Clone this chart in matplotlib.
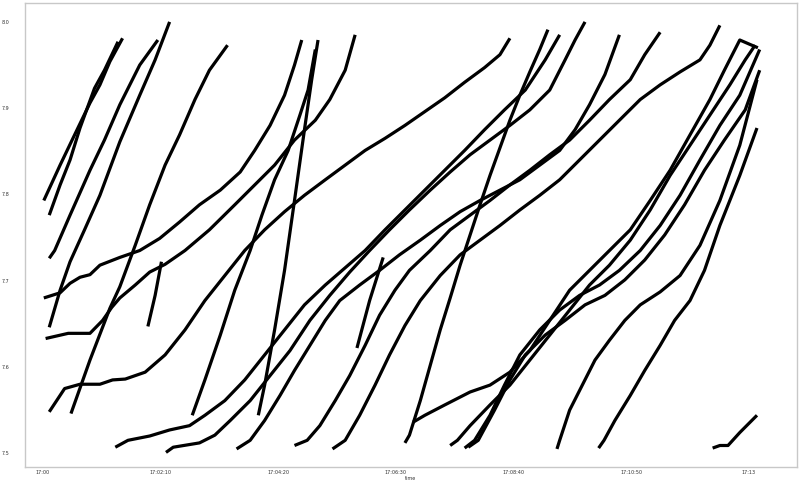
import matplotlib
matplotlib.use("Agg")
import matplotlib.pyplot as plt

# seconds after 17:00:00 and measured value for each run
run_a_t = [1, 19, 35, 52, 63, 74, 88]
run_a_v = [7.793, 7.834, 7.869, 7.906, 7.927, 7.954, 7.981]
run_b_t = [7, 19, 30, 41, 57, 68, 83]
run_b_v = [7.776, 7.811, 7.840, 7.877, 7.923, 7.944, 7.977]
run_c_t = [7, 13, 30, 52, 68, 85, 107, 127]
run_c_v = [7.726, 7.735, 7.776, 7.828, 7.863, 7.904, 7.950, 7.979]
run_d_t = [7, 19, 30, 46, 63, 85, 107, 124, 140]
run_d_v = [7.646, 7.689, 7.722, 7.759, 7.799, 7.861, 7.915, 7.956, 8.000]
run_e_t = [1, 19, 30, 41, 52, 63, 85, 107, 129, 151, 173, 196, 218, 234, 251, 267, 278, 286]
run_e_v = [7.680, 7.686, 7.697, 7.704, 7.707, 7.718, 7.727, 7.735, 7.749, 7.768, 7.788, 7.805,
           7.826, 7.851, 7.880, 7.915, 7.950, 7.979]
run_f_t = [3, 28, 52, 66, 76, 85, 102, 118, 135, 157, 184, 212, 234, 256, 278, 301, 317, 334, 345]
run_f_v = [7.633, 7.639, 7.639, 7.654, 7.669, 7.680, 7.695, 7.710, 7.719, 7.735, 7.759, 7.788,
           7.811, 7.834, 7.863, 7.886, 7.910, 7.944, 7.985]
run_g_t = [7, 24, 41, 63, 77, 91, 113, 135, 157, 179, 201, 223, 245, 267, 289, 312, 334, 356,
           378, 400, 422, 444, 466, 488, 505, 516]
run_g_v = [7.548, 7.575, 7.580, 7.580, 7.585, 7.586, 7.594, 7.614, 7.643, 7.677, 7.706, 7.735,
           7.759, 7.780, 7.799, 7.817, 7.834, 7.851, 7.865, 7.880, 7.896, 7.912, 7.930, 7.947,
           7.962, 7.981]
run_h_t = [31, 52, 74, 85, 102, 118, 135, 151, 168, 184, 204]
run_h_v = [7.546, 7.608, 7.668, 7.693, 7.741, 7.788, 7.834, 7.869, 7.910, 7.944, 7.973]
run_i_t = [80, 94, 118, 140, 162, 179, 201, 223, 245, 267, 289, 312, 334, 356, 378, 400, 422,
           444, 466, 488, 510, 533, 555, 571]
run_i_v = [7.507, 7.515, 7.520, 7.527, 7.532, 7.544, 7.561, 7.585, 7.614, 7.643, 7.672, 7.695,
           7.715, 7.735, 7.759, 7.782, 7.805, 7.828, 7.851, 7.875, 7.898, 7.921, 7.956, 7.985]
run_j_t = [116, 124, 131]
run_j_v = [7.647, 7.683, 7.722]
run_k_t = [165, 179, 196, 212, 229, 242, 256, 271, 284, 293, 301]
run_k_v = [7.544, 7.585, 7.637, 7.689, 7.735, 7.776, 7.817, 7.851, 7.892, 7.921, 7.968]
run_l_t = [238, 245, 256, 267, 278, 289, 297, 304]
run_l_v = [7.544, 7.579, 7.643, 7.712, 7.793, 7.875, 7.933, 7.979]
run_m_t = [136, 144, 173, 190, 207, 229, 251, 273, 295, 317, 339, 361, 383, 405, 428, 450, 472,
           494, 516, 538, 560, 577, 588, 599]
run_m_v = [7.501, 7.507, 7.512, 7.521, 7.538, 7.561, 7.590, 7.619, 7.654, 7.683, 7.710, 7.735,
           7.759, 7.782, 7.805, 7.826, 7.846, 7.863, 7.880, 7.898, 7.921, 7.956, 7.979, 8.000]
run_n_t = [214, 229, 245, 262, 278, 295, 312, 328, 350, 372, 394, 417, 439, 461, 483, 505, 527,
           549, 571, 588, 604, 621, 637]
run_n_v = [7.505, 7.515, 7.538, 7.567, 7.596, 7.625, 7.654, 7.677, 7.695, 7.712, 7.730, 7.747,
           7.764, 7.780, 7.793, 7.805, 7.817, 7.834, 7.851, 7.875, 7.904, 7.939, 7.985]
run_o_t = [278, 292, 306, 323, 339, 356, 372, 389, 405, 428, 450, 472, 494, 516, 538, 560, 582,
           604, 626, 649, 665, 682]
run_o_v = [7.509, 7.515, 7.532, 7.561, 7.590, 7.625, 7.660, 7.689, 7.712, 7.735, 7.759, 7.776,
           7.793, 7.811, 7.828, 7.846, 7.863, 7.886, 7.910, 7.933, 7.962, 7.988]
run_p_t = [320, 334, 350, 367, 383, 400, 417, 439, 461, 483, 505, 527, 549, 571, 593, 615, 637,
           660, 682, 704, 726, 737, 748]
run_p_v = [7.505, 7.515, 7.544, 7.579, 7.614, 7.648, 7.677, 7.706, 7.730, 7.747, 7.764, 7.782,
           7.799, 7.817, 7.840, 7.863, 7.886, 7.910, 7.927, 7.942, 7.956, 7.973, 7.996]
run_q_t = [400, 405, 417, 428, 439, 450, 461, 472, 483, 494, 505, 516, 527, 538, 549, 558]
run_q_v = [7.512, 7.521, 7.561, 7.602, 7.643, 7.680, 7.718, 7.753, 7.788, 7.822, 7.854, 7.886,
           7.915, 7.942, 7.968, 7.991]
run_r_t = [409, 422, 444, 472, 494, 516, 538, 560, 582, 604, 626, 649, 671, 693, 715, 737, 753,
           770, 781, 790]
run_r_v = [7.536, 7.544, 7.556, 7.571, 7.579, 7.594, 7.619, 7.654, 7.689, 7.712, 7.735, 7.759,
           7.793, 7.828, 7.869, 7.910, 7.944, 7.979, 7.974, 7.970]
run_s_t = [450, 458, 472, 494, 516, 538, 560, 582, 604, 626, 649, 671, 693, 715, 737, 759, 776, 787]
run_s_v = [7.509, 7.515, 7.532, 7.556, 7.579, 7.608, 7.637, 7.666, 7.695, 7.718, 7.747, 7.782,
           7.822, 7.857, 7.892, 7.927, 7.956, 7.973]
run_t_t = [466, 477, 494, 510, 527, 549, 571, 593, 615, 637, 660, 682, 704, 726, 748, 770, 792]
run_t_v = [7.506, 7.515, 7.544, 7.579, 7.614, 7.643, 7.666, 7.683, 7.695, 7.712, 7.735, 7.764,
           7.799, 7.840, 7.880, 7.915, 7.968]
run_u_t = [470, 481, 499, 516, 533, 555, 577, 599, 621, 643, 665, 687, 709, 731, 753, 776, 792]
run_u_v = [7.507, 7.515, 7.550, 7.585, 7.614, 7.637, 7.654, 7.672, 7.683, 7.701, 7.724, 7.753,
           7.788, 7.828, 7.863, 7.898, 7.944]
run_v_t = [568, 571, 582, 596, 610, 626, 643, 660, 682, 704, 726, 748, 770, 789]
run_v_v = [7.505, 7.515, 7.550, 7.579, 7.608, 7.631, 7.654, 7.672, 7.687, 7.706, 7.741, 7.793,
           7.857, 7.933]
run_w_t = [614, 620, 632, 649, 665, 682, 698, 715, 731, 748, 770, 789]
run_w_v = [7.506, 7.515, 7.538, 7.567, 7.596, 7.625, 7.654, 7.677, 7.712, 7.764, 7.822, 7.877]
run_x_t = [740, 748, 757, 770, 789]
run_x_v = [7.506, 7.509, 7.509, 7.524, 7.544]
run_y_t = [347, 361, 376]
run_y_v = [7.622, 7.677, 7.727]

# axis ticks
time_ticks = [0, 130, 260, 390, 520, 650, 780]
time_labels = ["17:00", "17:02:10", "17:04:20", "17:06:30", "17:08:40", "17:10:50", "17:13"]
value_ticks = [7.5, 7.6, 7.7, 7.8, 7.9, 8.0]

runs = [
    (run_a_t, run_a_v), (run_b_t, run_b_v), (run_c_t, run_c_v), (run_d_t, run_d_v),
    (run_e_t, run_e_v), (run_f_t, run_f_v), (run_g_t, run_g_v), (run_h_t, run_h_v),
    (run_i_t, run_i_v), (run_j_t, run_j_v), (run_k_t, run_k_v), (run_l_t, run_l_v),
    (run_m_t, run_m_v), (run_n_t, run_n_v), (run_o_t, run_o_v), (run_p_t, run_p_v),
    (run_q_t, run_q_v), (run_r_t, run_r_v), (run_s_t, run_s_v), (run_t_t, run_t_v),
    (run_u_t, run_u_v), (run_v_t, run_v_v), (run_w_t, run_w_v), (run_x_t, run_x_v),
    (run_y_t, run_y_v),
]

fig = plt.figure(figsize=(8, 4.84), dpi=100)
ax = fig.add_axes([0.031, 0.035, 0.965, 0.959])

for t, v in runs:
    ax.plot(t, v, color="black", linewidth=2.3, solid_capstyle="butt")

ax.set_xlim(-20, 833)
ax.set_ylim(7.484, 8.022)
ax.set_xticks(time_ticks)
ax.set_xticklabels(time_labels)
ax.set_yticks(value_ticks)
ax.set_yticklabels([f"{v:.1f}" for v in value_ticks])
ax.tick_params(axis="x", length=0, labelsize=3.5, colors="#333333", pad=2)
ax.tick_params(axis="y", length=0, labelsize=3.5, colors="#333333", pad=11)
ax.set_xlabel("time", fontsize=3.5, labelpad=0.5, color="#333333")

for s in ax.spines.values():
    s.set_color("#c8c8c8")
    s.set_linewidth(1.0)

fig.savefig("out.png", dpi=100)
